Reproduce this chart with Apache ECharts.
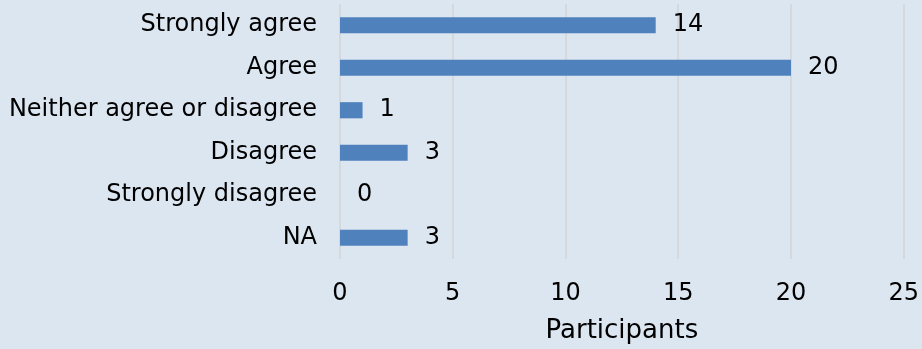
<!DOCTYPE html>
<html>
<head>
<meta charset="utf-8">
<script src="https://cdn.jsdelivr.net/npm/echarts@6/dist/echarts.min.js"></script>
<style>
  html, body { margin: 0; padding: 0; background: #dce6f1; }
  #chart { width: 922px; height: 349px; }
</style>
</head>
<body>
<div id="chart"></div>
<script>
// Survey responses, listed top to bottom
const categories = ['Strongly agree', 'Agree', 'Neither agree or disagree', 'Disagree', 'Strongly disagree', 'NA'];
const participants = [14, 20, 1, 3, 0, 3];
const xTicks = [0, 5, 10, 15, 20, 25];

const font = 'DejaVu Sans, Verdana, sans-serif';
const chart = echarts.init(document.getElementById('chart'));

chart.setOption({
  backgroundColor: '#dce6f1',
  animation: false,
  grid: { left: 340, right: 15, top: 4, bottom: 88, containLabel: false },
  xAxis: {
    type: 'value',
    min: xTicks[0],
    max: xTicks[xTicks.length - 1],
    interval: 5,
    name: 'Participants',
    nameLocation: 'middle',
    nameGap: 59,
    nameTextStyle: { fontFamily: font, fontSize: 26, color: '#000' },
    axisLine: { show: false },
    axisTick: { show: false },
    axisLabel: { fontFamily: font, fontSize: 24, color: '#000', margin: 23 },
    splitLine: { show: true, lineStyle: { color: '#d6d9dc', width: 2 } }
  },
  yAxis: {
    type: 'category',
    data: categories,
    inverse: true,
    axisLine: { show: false },
    axisTick: { show: false },
    axisLabel: { fontFamily: font, fontSize: 24, color: '#000', margin: 23 }
  },
  series: [{
    type: 'bar',
    data: participants,
    barCategoryGap: '62%',
    itemStyle: { color: '#4f81bd' },
    label: {
      show: true,
      position: 'right',
      distance: 17,
      fontFamily: font,
      fontSize: 24,
      color: '#000'
    }
  }]
});
</script>
</body>
</html>
